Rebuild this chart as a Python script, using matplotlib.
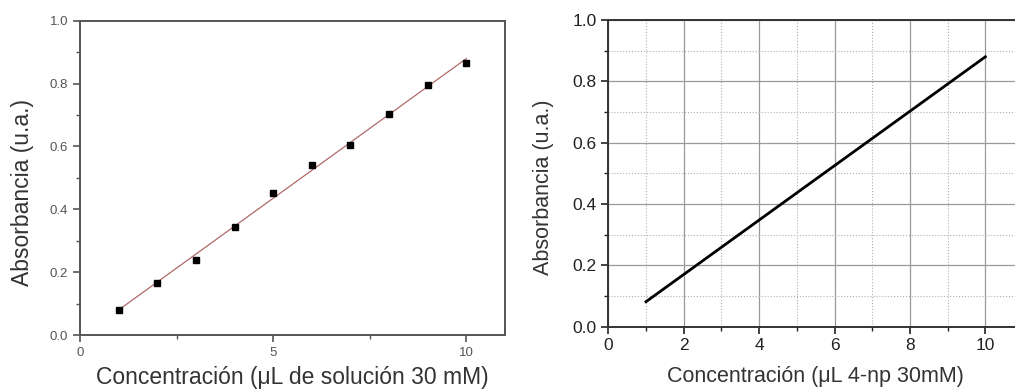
import numpy as np
import matplotlib
matplotlib.use("Agg")
import matplotlib.pyplot as plt
from matplotlib.ticker import MultipleLocator

plt.rcParams['font.family'] = ['Liberation Sans', 'DejaVu Sans']

# Left panel data (measured points)
conc_left = [1, 2, 3, 4, 5, 6, 7, 8, 9, 10]
abs_left = [0.081, 0.166, 0.240, 0.344, 0.452, 0.542, 0.605, 0.704, 0.794, 0.867]

# Right panel data (calibration line endpoints)
conc_right = [1, 10]
abs_right = [0.0815, 0.880]

fig = plt.figure(figsize=(10.15, 3.92), dpi=100)

# ---------- Left panel ----------
ax1 = fig.add_axes([0.0788, 0.1454, 0.4187, 0.8018])
ax1.plot(conc_left, abs_left, 's', color='black', ms=5, zorder=3)
coef = np.polyfit(conc_left, abs_left, 1)
xf = np.array([conc_left[0], conc_left[-1]])
ax1.plot(xf, np.polyval(coef, xf), '-', color='#b06a6a', lw=0.9, zorder=2)
ax1.set_xlim(0, 11)
ax1.set_ylim(0, 1.0)
ax1.xaxis.set_major_locator(MultipleLocator(5))
ax1.xaxis.set_minor_locator(MultipleLocator(2.5))
ax1.yaxis.set_major_locator(MultipleLocator(0.2))
ax1.yaxis.set_minor_locator(MultipleLocator(0.1))
ax1.yaxis.set_major_formatter(matplotlib.ticker.FormatStrFormatter('%.1f'))
for s in ax1.spines.values():
    s.set_color('#555555')
    s.set_linewidth(1.4)
ax1.tick_params(which='both', direction='out', colors='#555555', labelsize=9.5)
ax1.tick_params(which='major', length=5, width=1.2)
ax1.tick_params(which='minor', length=3, width=1.0)
ax1.set_xlabel('Concentración (μL de solución 30 mM)', fontsize=16.5, color='#333333', labelpad=5)
ax1.set_ylabel('Absorbancia (u.a.)', fontsize=16.5, color='#333333')
ax1.yaxis.set_label_coords(-0.108, 0.452)

# ---------- Right panel ----------
ax2 = fig.add_axes([0.5993, 0.1666, 0.4086, 0.7823])
ax2.plot(conc_right, abs_right, '-', color='black', lw=2, zorder=3)
ax2.set_xlim(0, 11)
ax2.set_ylim(0, 1.0)
ax2.xaxis.set_major_locator(MultipleLocator(2))
ax2.xaxis.set_minor_locator(MultipleLocator(1))
ax2.yaxis.set_major_locator(MultipleLocator(0.2))
ax2.yaxis.set_minor_locator(MultipleLocator(0.1))
ax2.yaxis.set_major_formatter(matplotlib.ticker.FormatStrFormatter('%.1f'))
ax2.grid(which='major', color='#9a9a9a', lw=0.9, ls='-')
ax2.grid(which='minor', color='#b0b0b0', lw=0.8, ls=':')
ax2.set_axisbelow(True)
for s in ax2.spines.values():
    s.set_color('#333333')
    s.set_linewidth(1.4)
ax2.tick_params(which='both', direction='out', colors='#222222', labelsize=12.5)
ax2.tick_params(which='major', length=5, width=1.2)
ax2.tick_params(which='minor', length=3, width=1.0)
ax2.set_xlabel('Concentración (μL 4-np 30mM)', fontsize=15.5, color='#333333', labelpad=9)
ax2.set_ylabel('Absorbancia (u.a.)', fontsize=15.5, color='#333333')
ax2.yaxis.set_label_coords(-0.131, 0.455)

fig.savefig('out.png', dpi=100)
